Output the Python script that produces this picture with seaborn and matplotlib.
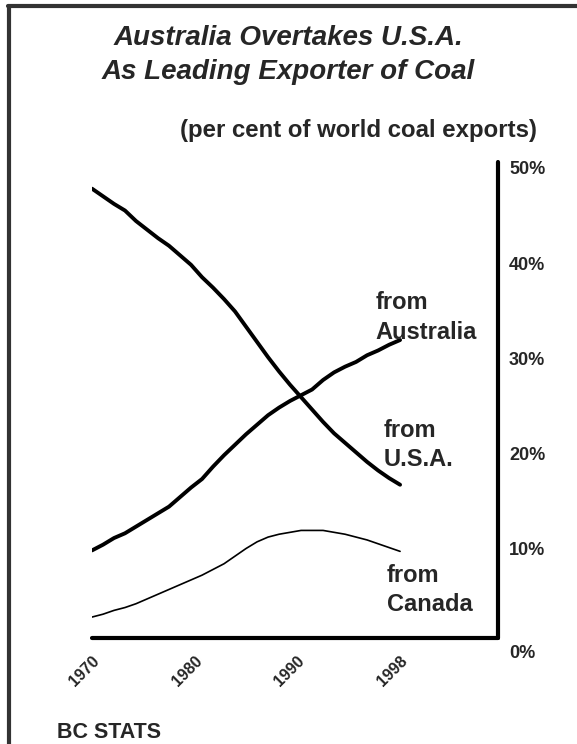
import matplotlib
matplotlib.use("Agg")
import matplotlib.pyplot as plt
import matplotlib.transforms as mtransforms
from matplotlib.lines import Line2D
import pandas as pd
import seaborn as sns

# Data (per cent of world coal exports)
years = list(range(1970, 1999))
usa = [47.2, 46.4, 45.6, 44.9, 43.8, 42.9, 42.0, 41.2, 40.2, 39.2,
       37.9, 36.8, 35.6, 34.3, 32.7, 31.1, 29.5, 28.0, 26.6, 25.3,
       24.0, 22.7, 21.5, 20.5, 19.5, 18.5, 17.6, 16.8, 16.1]
australia = [9.2, 9.8, 10.5, 11.0, 11.7, 12.4, 13.1, 13.8, 14.8, 15.8,
             16.7, 18.0, 19.2, 20.3, 21.4, 22.4, 23.4, 24.2, 24.9, 25.5,
             26.1, 27.1, 27.9, 28.5, 29.0, 29.7, 30.2, 30.8, 31.3]
canada = [2.2, 2.5, 2.9, 3.2, 3.6, 4.1, 4.6, 5.1, 5.6, 6.1,
          6.6, 7.2, 7.8, 8.6, 9.4, 10.1, 10.6, 10.9, 11.1, 11.3,
          11.3, 11.3, 11.1, 10.9, 10.6, 10.3, 9.9, 9.5, 9.1]
x_tick_labels = ["1970", "1980", "1990", "1998"]
y_ticks = [0, 10, 20, 30, 40, 50]
y_tick_labels = ["0%", "10%", "20%", "30%", "40%", "50%"]

df = pd.DataFrame({"year": years, "USA": usa, "Australia": australia, "Canada": canada})

sns.set_style("white")
plt.rcParams["font.family"] = ["Liberation Sans", "DejaVu Sans"]
plt.rcParams["font.weight"] = "bold"

fig = plt.figure(figsize=(5.77, 7.44), dpi=100)
ax = fig.add_axes([92 / 577, 1 - 638 / 744, (498 - 92) / 577, (638 - 162) / 744])

sns.lineplot(data=df, x="year", y="USA", ax=ax, color="black", linewidth=2.8)
sns.lineplot(data=df, x="year", y="Australia", ax=ax, color="black", linewidth=2.8)
sns.lineplot(data=df, x="year", y="Canada", ax=ax, color="black", linewidth=1.2)

ax.set_xlim(1970, 2006.9)
ax.set_ylim(0, 50)
ax.set_xlabel("")
ax.set_ylabel("")

# spines: only bottom and right, heavy
for side in ["top", "left"]:
    ax.spines[side].set_visible(False)
for side in ["bottom", "right"]:
    ax.spines[side].set_linewidth(3)
    ax.spines[side].set_color("black")
    ax.spines[side].set_capstyle("round")

# x ticks evenly spaced across the data range
step = (years[-1] - years[0]) / (len(x_tick_labels) - 1)
ax.set_xticks([years[0] + i * step for i in range(len(x_tick_labels))])
ax.set_xticklabels(x_tick_labels, rotation=45, ha="right", va="center",
                   rotation_mode="anchor", fontsize=11.5, fontweight="bold")
ax.tick_params(axis="x", length=0, pad=15)
dx = mtransforms.ScaledTranslation(5 / 100, 0, fig.dpi_scale_trans)
for lbl in ax.get_xticklabels():
    lbl.set_transform(lbl.get_transform() + dx)

ax.yaxis.tick_right()
ax.set_yticks(y_ticks)
ax.set_yticklabels(y_tick_labels, fontsize=13, fontweight="bold")
ax.tick_params(axis="y", length=0, pad=8)
for i, lbl in enumerate(ax.get_yticklabels()):
    off = -14 if i == 0 else -6
    lbl.set_transform(lbl.get_transform() + mtransforms.ScaledTranslation(0, off / 100, fig.dpi_scale_trans))

# line labels
label_kw = dict(fontsize=17, fontweight="bold", ha="left", va="top", linespacing=1.34)
ax.text(1995.8, 36.4, "from\nAustralia", **label_kw)
ax.text(1996.5, 23.0, "from\nU.S.A.", **label_kw)
ax.text(1996.8, 7.8, "from\nCanada", **label_kw)

# titles
fig.text(0.5, 1 - 55 / 744, "Australia Overtakes U.S.A.\nAs Leading Exporter of Coal",
         ha="center", va="center", fontsize=20, fontweight="bold", style="italic",
         linespacing=1.42)
fig.text(359 / 577, 1 - 131 / 744, "(per cent of world coal exports)",
         ha="center", va="center", fontsize=17.3, fontweight="bold")
fig.text(57 / 577, 1 - 733 / 744, "BC STATS", ha="left", va="center",
         fontsize=15.5, fontweight="bold")

# frame lines (left and top)
fig.add_artist(Line2D([9 / 577, 9 / 577], [0, 1 - 6 / 744], transform=fig.transFigure,
                      color="#333333", linewidth=3))
fig.add_artist(Line2D([7.5 / 577, 1], [1 - 6 / 744, 1 - 6 / 744], transform=fig.transFigure,
                      color="#333333", linewidth=3))

fig.savefig("out.png", dpi=100)
